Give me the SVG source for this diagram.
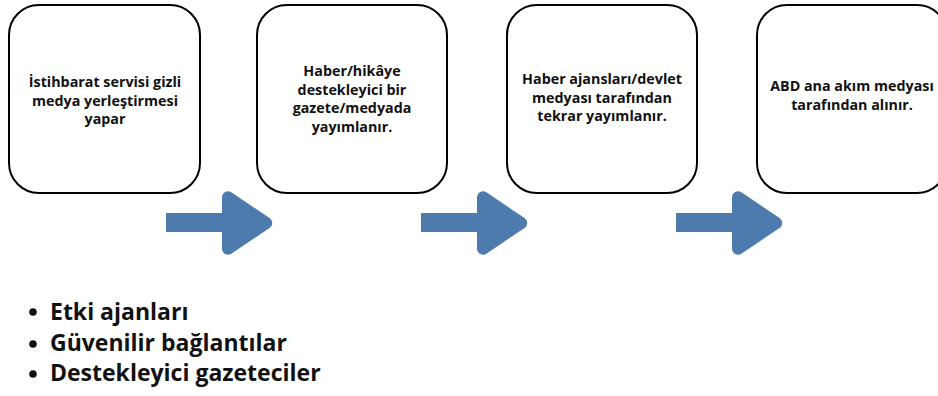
<svg xmlns="http://www.w3.org/2000/svg" xmlns:xlink="http://www.w3.org/1999/xlink" width="938" height="396" viewBox="0 0 938 396">
<style>
.box{fill:#fff;stroke:#000;stroke-width:2}
.t{font-family:"Open Sans","Liberation Sans",sans-serif;font-weight:700;font-size:14.3px;fill:#111;text-anchor:middle}
.b{font-family:"Open Sans","Liberation Sans",sans-serif;font-weight:700;font-size:23px;fill:#111}
.arr{fill:#4e7bad}
</style>
<defs>
<g id="arrow">
<rect class="arr" x="166" y="213" width="60" height="19"/>
<polygon class="arr" points="228,197.3 266.2,223 228,248.7" stroke="#4e7bad" stroke-width="12" stroke-linejoin="round"/>
</g>
</defs>
<rect width="938" height="396" fill="#fff"/>
<g id="connectors">
<use xlink:href="#arrow"/>
<use xlink:href="#arrow" transform="translate(255,0)"/>
<use xlink:href="#arrow" transform="translate(510,0)"/>
</g>
<g id="node1">
<rect class="box" x="9" y="5" width="191" height="188" rx="30"/>
<text class="t" x="105" y="87">İstihbarat servisi gizli</text>
<text class="t" x="105" y="106">medya yerleştirmesi</text>
<text class="t" x="105" y="124">yapar</text>
</g>
<g id="node2">
<rect class="box" x="257" y="5" width="190" height="188" rx="30"/>
<text class="t" x="352" y="76">Haber/hikâye</text>
<text class="t" x="352" y="95">destekleyici bir</text>
<text class="t" x="352" y="113">gazete/medyada</text>
<text class="t" x="352" y="132">yayımlanır.</text>
</g>
<g id="node3">
<rect class="box" x="507" y="5" width="190" height="188" rx="30"/>
<text class="t" x="602" y="84">Haber ajansları/devlet</text>
<text class="t" x="602" y="103">medyası tarafından</text>
<text class="t" x="602" y="121">tekrar yayımlanır.</text>
</g>
<g id="node4">
<rect class="box" x="757" y="5" width="190" height="188" rx="30"/>
<text class="t" x="852" y="91">ABD ana akım medyası</text>
<text class="t" x="852" y="110">tarafından alınır.</text>
</g>
<g id="bullets">
<circle cx="33" cy="312" r="3.8" fill="#111"/>
<circle cx="33" cy="344" r="3.8" fill="#111"/>
<circle cx="33" cy="374" r="3.8" fill="#111"/>
<text class="b" x="50" y="320">Etki ajanları</text>
<text class="b" x="50" y="351">Güvenilir bağlantılar</text>
<text class="b" x="50" y="381">Destekleyici gazeteciler</text>
</g>
</svg>
